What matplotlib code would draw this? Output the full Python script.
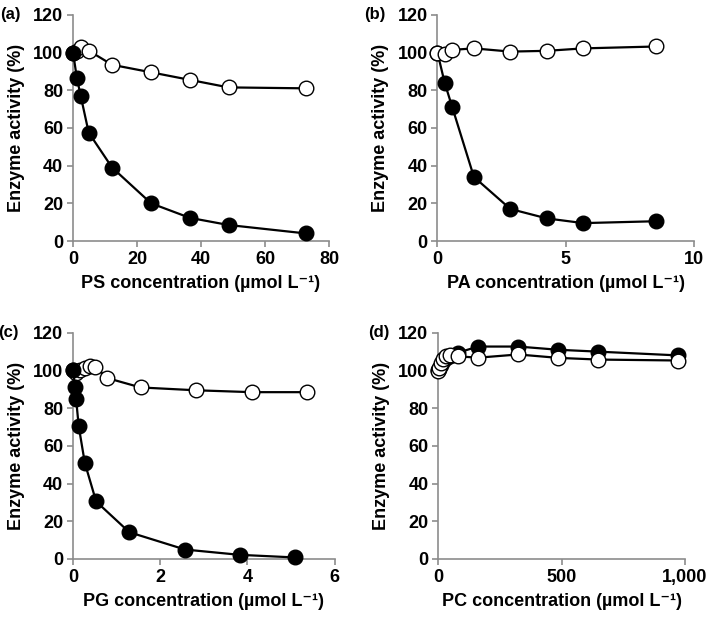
import matplotlib
matplotlib.use('Agg')
import matplotlib.pyplot as plt

plt.rcParams['font.family'] = ['Liberation Sans', 'DejaVu Sans']
plt.rcParams['font.weight'] = 'bold'

# panel (a) PS
ps_x_filled = [0, 1.2, 2.4, 4.9, 12.2, 24.4, 36.5, 48.6, 72.9]
ps_y_filled = [100, 86.5, 77, 57.5, 39, 20, 12.3, 8.5, 4]
ps_x_open = [0, 1.2, 2.4, 4.9, 12.2, 24.4, 36.5, 48.6, 72.9]
ps_y_open = [100, 101, 103, 101, 93.5, 89.5, 85.5, 81.5, 81]

# panel (b) PA
pa_x_filled = [0, 0.28, 0.57, 1.42, 2.84, 4.26, 5.68, 8.52]
pa_y_filled = [100, 84, 71.3, 34, 17, 12, 9.5, 10.5]
pa_x_open = [0, 0.28, 0.57, 1.42, 2.84, 4.26, 5.68, 8.52]
pa_y_open = [100, 99.3, 101.4, 102.2, 100.5, 100.9, 102.2, 103.2]

# panel (c) PG
pg_x_filled = [0, 0.05, 0.07, 0.13, 0.27, 0.53, 1.29, 2.57, 3.82, 5.1]
pg_y_filled = [100, 91, 85, 70.5, 51, 30.5, 14.2, 5, 2.2, 0.8]
pg_x_open = [0, 0.06, 0.15, 0.27, 0.38, 0.51, 0.78, 1.55, 2.82, 4.1, 5.37]
pg_y_open = [100, 98.5, 100.5, 101.5, 102.3, 102, 96, 91, 89.5, 88.5, 88.5]

# panel (d) PC
pc_x_filled = [0, 5, 10, 20, 30, 50, 81, 162, 324, 486, 648, 973]
pc_y_filled = [100, 101, 103, 105, 106.5, 107.5, 109.5, 112.7, 112.7, 111, 110, 108]
pc_x_open = [0, 5, 10, 20, 30, 50, 81, 162, 324, 486, 648, 973]
pc_y_open = [99.6, 101.5, 104, 106, 107.5, 108, 107.5, 106.8, 108.5, 106.7, 105.8, 105.3]

y_ticks = [0, 20, 40, 60, 80, 100, 120]

panels = [
    ('(a)', 'PS', ps_x_filled, ps_y_filled, ps_x_open, ps_y_open, (0, 80), [0, 20, 40, 60, 80], ['0', '20', '40', '60', '80'], True),
    ('(b)', 'PA', pa_x_filled, pa_y_filled, pa_x_open, pa_y_open, (0, 10), [0, 5, 10], ['0', '5', '10'], False),
    ('(c)', 'PG', pg_x_filled, pg_y_filled, pg_x_open, pg_y_open, (0, 6), [0, 2, 4, 6], ['0', '2', '4', '6'], True),
    ('(d)', 'PC', pc_x_filled, pc_y_filled, pc_x_open, pc_y_open, (0, 1000), [0, 500, 1000], ['0', '500', '1,000'], False),
]

# axes rectangles in figure fractions [left, bottom, width, height]
rects = [
    [0.103, 0.610, 0.361, 0.366],
    [0.617, 0.610, 0.362, 0.366],
    [0.103, 0.0955, 0.369, 0.366],
    [0.618, 0.0955, 0.348, 0.366],
]

fig = plt.figure(figsize=(7.09, 6.18), dpi=100)
gray = '#8c8c8c'
fs = 13

for rect, (tag, lipid, xf, yf, xo, yo, xlim, xt, xtl, filled_top) in zip(rects, panels):
    ax = fig.add_axes(rect)
    zf, zo = (4, 3) if filled_top else (3, 4)
    ax.plot(xo, yo, '-', color='black', lw=1.6, marker='o', ms=10.5,
            mfc='white', mec='black', mew=1.0, zorder=zo, clip_on=False)
    ax.plot(xf, yf, '-', color='black', lw=1.6, marker='o', ms=10.5,
            mfc='black', mec='black', mew=1.0, zorder=zf, clip_on=False)
    ax.set_xlim(xlim)
    ax.set_ylim(0, 120)
    ax.set_yticks(y_ticks)
    ax.set_yticklabels([str(v) for v in y_ticks], fontsize=fs, fontweight='bold')
    ax.set_xticks(xt)
    ax.set_xticklabels(xtl, fontsize=fs, fontweight='bold')
    for s in ['top', 'right']:
        ax.spines[s].set_visible(False)
    for s in ['left', 'bottom']:
        ax.spines[s].set_color(gray)
        ax.spines[s].set_linewidth(1.2)
    ax.tick_params(direction='out', length=4, width=1.2, color=gray, pad=3)
    ax.set_ylabel('Enzyme activity (%)', fontsize=fs, fontweight='bold', labelpad=6)
    ax.set_xlabel(lipid + ' concentration (\u00b5mol L\u207b\u00b9)', fontsize=fs,
                  fontweight='bold', labelpad=5)
    ax.text(-0.285, 1.0, tag, transform=ax.transAxes, fontsize=12,
            fontweight='bold', ha='left', va='center')

fig.savefig('out.png', dpi=100)
